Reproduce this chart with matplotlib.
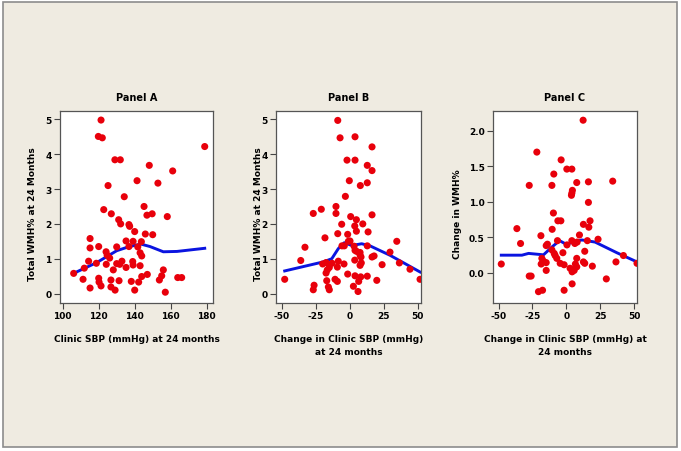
import matplotlib
matplotlib.use("Agg")
import matplotlib.pyplot as plt
from matplotlib.patches import Rectangle

# --- Panel A: clinic SBP at 24 months vs total WMH% ---
a_sbp = [121.3, 119.8, 122.0, 129.0, 132.0, 148.1, 161.1, 178.9, 141.3, 152.9,
         125.2, 134.2, 145.2, 122.8, 127.0, 146.8, 149.7, 158.1, 131.1, 132.2,
         136.8, 137.2, 140.0, 145.9, 150.0, 115.2, 115.2, 120.0, 130.0, 135.2,
         139.1, 143.7, 136.8, 141.7, 143.0, 143.9, 124.1, 124.7, 126.1, 114.4,
         118.7, 124.2, 130.0, 131.7, 132.9, 135.2, 138.9, 139.1, 143.0, 112.0,
         128.1, 106.1, 155.9, 155.0, 153.7, 147.0, 143.9, 163.9, 166.1, 111.3,
         120.0, 120.2, 126.8, 131.3, 138.1, 142.2, 121.3, 115.2, 126.8, 129.1,
         140.0, 157.0]
a_wmh = [4.98, 4.51, 4.47, 3.84, 3.84, 3.68, 3.52, 4.22, 3.24, 3.17,
         3.10, 2.78, 2.50, 2.41, 2.29, 2.25, 2.29, 2.21, 2.12, 2.00,
         1.98, 1.93, 1.78, 1.71, 1.69, 1.58, 1.31, 1.35, 1.34, 1.51,
         1.50, 1.49, 1.35, 1.34, 1.17, 1.08, 1.20, 1.10, 1.02, 0.93,
         0.87, 0.84, 0.86, 0.84, 0.93, 0.75, 0.92, 0.82, 0.80, 0.73,
         0.68, 0.58, 0.68, 0.51, 0.39, 0.55, 0.49, 0.46, 0.46, 0.41,
         0.44, 0.33, 0.39, 0.37, 0.35, 0.33, 0.22, 0.16, 0.19, 0.10,
         0.10, 0.04]
a_fit_x = [106.0, 118.9, 130.0, 137.0, 143.5, 148.5, 155.9, 163.5, 178.9]
a_fit_y = [0.58, 0.89, 1.23, 1.35, 1.42, 1.35, 1.20, 1.21, 1.30]

# --- Panel B: change in clinic SBP vs total WMH% ---
b_dsbp = [-8.8, -7.1, 3.9, 16.4, -2.0, 3.9, 12.9, 16.4, -0.3, 12.9,
          7.8, -3.2, -10.1, -20.9, -26.8, -10.1, 16.4, 0.7, 4.9, 9.6,
          -5.9, 3.7, 4.9, 13.5, -8.8, -1.5, 34.6, -18.2, -32.9, -1.0,
          0.2, -5.7, -4.0, 3.2, 12.9, 3.9, 5.1, 7.6, 29.6, 8.3,
          7.6, 16.4, 17.9, 3.7, -36.0, -8.4, -17.4, -13.0, -19.9, -4.2,
          8.5, 7.6, -15.0, -9.1, 23.8, 36.5, 44.3, -16.5, -17.4, -1.5,
          3.9, 8.1, 12.9, -47.8, -10.8, -9.1, -16.9, 19.9, 6.6, 51.7,
          -26.2, -26.8, -15.7, -15.0, 2.7, 6.1]
b_wmh = [4.97, 4.47, 4.50, 4.21, 3.83, 3.83, 3.68, 3.53, 3.24, 3.18,
         3.10, 2.79, 2.50, 2.42, 2.30, 2.30, 2.26, 2.21, 2.12, 2.00,
         1.99, 1.94, 1.79, 1.77, 1.72, 1.70, 1.50, 1.60, 1.33, 1.50,
         1.51, 1.37, 1.37, 1.36, 1.37, 1.24, 1.21, 1.18, 1.19, 1.05,
         1.10, 1.05, 1.08, 0.96, 0.95, 0.93, 0.89, 0.87, 0.85, 0.85,
         0.88, 0.81, 0.75, 0.76, 0.83, 0.88, 0.70, 0.68, 0.59, 0.56,
         0.51, 0.48, 0.50, 0.41, 0.41, 0.35, 0.37, 0.38, 0.35, 0.41,
         0.24, 0.11, 0.19, 0.11, 0.21, 0.06]
b_fit_x = [-47.8, -19.4, -13.2, -8.4, -4.0, 1.5, 8.8, 14.9, 29.6, 51.7]
b_fit_y = [0.65, 0.91, 1.00, 1.29, 1.46, 1.38, 1.43, 1.37, 1.10, 0.62]

# --- Panel C: change in clinic SBP vs change in WMH% ---
c_dsbp = [12.3, -21.8, -3.9, 0.3, 4.0, -9.3, 7.6, 16.2, 34.1, -27.4,
          -10.7, 4.4, 4.0, 3.7, 16.2, -9.6, -6.3, -4.1, 17.4, 12.5,
          16.5, -36.5, -10.5, -18.8, -33.8, -14.0, -14.9, -6.6, 0.4, 4.0,
          6.2, 9.6, 7.9, 15.4, 23.3, -2.6, 13.5, -10.7, -9.0, -8.3,
          -7.1, -18.1, -16.9, -14.9, -18.6, -4.6, -1.7, 7.6, 6.6, 7.6,
          12.5, 13.5, 19.1, 36.5, 2.7, 4.2, 5.7, -14.9, -48.0, -27.4,
          -26.0, 29.4, 4.2, -20.6, -17.6, -1.7, 42.0, 52.0]
c_dwmh = [2.15, 1.70, 1.59, 1.46, 1.46, 1.39, 1.27, 1.28, 1.29, 1.23,
          1.23, 1.16, 1.12, 1.09, 0.99, 0.84, 0.73, 0.73, 0.73, 0.68,
          0.64, 0.62, 0.61, 0.52, 0.41, 0.40, 0.38, 0.45, 0.39, 0.45,
          0.41, 0.53, 0.43, 0.45, 0.47, 0.28, 0.30, 0.32, 0.27, 0.24,
          0.20, 0.20, 0.16, 0.14, 0.12, 0.13, 0.11, 0.20, 0.12, 0.08,
          0.15, 0.13, 0.09, 0.15, 0.06, 0.01, 0.03, 0.03, 0.12, -0.05,
          -0.05, -0.09, -0.16, -0.27, -0.25, -0.25, 0.24, 0.13]
c_fit_x = [-48.0, -32.8, -27.9, -16.9, -10.7, -5.1, -0.2, 11.3, 21.1, 37.1, 52.0]
c_fit_y = [0.245, 0.245, 0.27, 0.25, 0.36, 0.45, 0.40, 0.46, 0.43, 0.28, 0.15]

W, H = 681, 452
fig = plt.figure(figsize=(W / 100, H / 100), dpi=100, facecolor="white")
# beige card with grey frame behind the panels
fig.patches.append(Rectangle((3 / W, 4 / H), 674 / W, 445 / H, transform=fig.transFigure,
                             facecolor="#efebe1", edgecolor="#8c8c8c", lw=1.2, zorder=-10))

font = dict(family="DejaVu Sans", weight="bold", size=6.5)

panels = [
    dict(rect=(60, 213), title="Panel A", x=a_sbp, y=a_wmh, fx=a_fit_x, fy=a_fit_y,
         xlim=(98.5, 183.5), ylim=(-0.27, 5.24), xticks=[100, 120, 140, 160, 180],
         yticks=[0, 1, 2, 3, 4, 5], yfmt="{:.0f}",
         xlabel="Clinic SBP (mmHg) at 24 months", ylabel="Total WMH% at 24 Months", ylx=-0.149),
    dict(rect=(276, 421), title="Panel B", x=b_dsbp, y=b_wmh, fx=b_fit_x, fy=b_fit_y,
         xlim=(-54.2, 52.4), ylim=(-0.27, 5.24), xticks=[-50, -25, 0, 25, 50],
         yticks=[0, 1, 2, 3, 4, 5], yfmt="{:.0f}",
         xlabel="Change in Clinic SBP (mmHg)\nat 24 months", ylabel="Total WMH% at 24 Months", ylx=-0.093),
    dict(rect=(493, 637), title="Panel C", x=c_dsbp, y=c_dwmh, fx=c_fit_x, fy=c_fit_y,
         xlim=(-54.1, 52.0), ylim=(-0.43, 2.28), xticks=[-50, -25, 0, 25, 50],
         yticks=[0.0, 0.5, 1.0, 1.5, 2.0], yfmt="{:.1f}",
         xlabel="Change in Clinic SBP (mmHg) at\n24 months", ylabel="Change in WMH%", ylx=-0.212),
]

top, bottom = 112, 304
for p in panels:
    l, r = p["rect"]
    ax = fig.add_axes([l / W, 1 - bottom / H, (r - l) / W, (bottom - top) / H])
    ax.set_facecolor("white")
    ax.scatter(p["x"], p["y"], s=26, color="#e8000b", edgecolors="none", zorder=3)
    ax.plot(p["fx"], p["fy"], color="#0a14e0", lw=2.1, zorder=2)
    ax.set_xlim(p["xlim"])
    ax.set_ylim(p["ylim"])
    ax.set_xticks(p["xticks"])
    ax.set_xticklabels([str(t) for t in p["xticks"]], **font)
    ax.set_yticks(p["yticks"])
    ax.set_yticklabels([p["yfmt"].format(t) for t in p["yticks"]], **font)
    ax.tick_params(length=4, width=0.8, color="#444444", pad=2)
    for s in ax.spines.values():
        s.set_color("#555555")
        s.set_linewidth(0.9)
    ax.set_title(p["title"], pad=8, family="DejaVu Sans", weight="bold", size=7)
    ax.set_xlabel(p["xlabel"], linespacing=1.5, **font)
    ax.xaxis.set_label_coords(0.5, -0.162)
    ax.set_ylabel(p["ylabel"], **font)
    ax.yaxis.set_label_coords(p["ylx"], 0.47)

fig.savefig("out.png", dpi=100, facecolor=fig.get_facecolor())
